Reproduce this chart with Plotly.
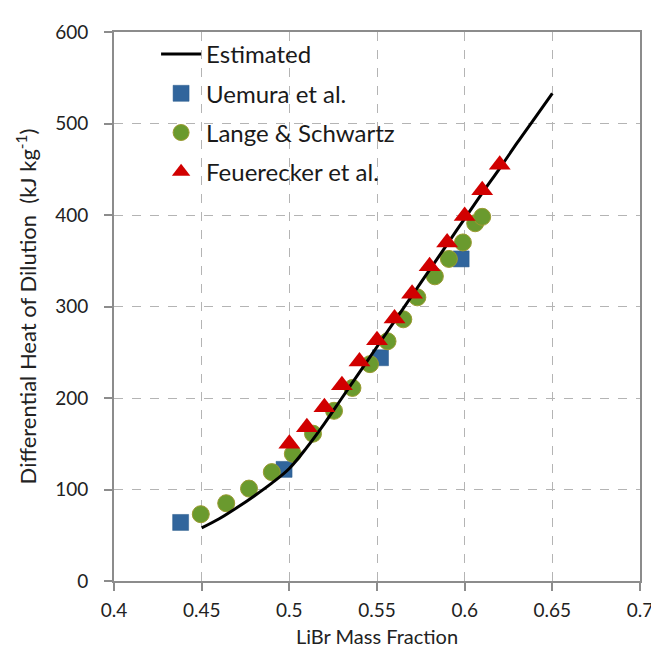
import plotly.graph_objects as go

# Estimated curve
est_x = [0.45, 0.46, 0.47, 0.48, 0.49, 0.50, 0.51, 0.52, 0.53, 0.54, 0.55,
         0.56, 0.57, 0.58, 0.59, 0.60, 0.61, 0.62, 0.63, 0.64, 0.65]
est_y = [58, 68, 80, 93, 107, 123, 146, 172, 200, 228, 256,
         284, 312, 340, 368, 396, 424, 451, 479, 506, 533]

# Uemura et al.
uem_x = [0.438, 0.497, 0.552, 0.598]
uem_y = [64, 122, 244, 352]

# Lange & Schwartz
lan_x = [0.4495, 0.464, 0.477, 0.490, 0.502, 0.5135, 0.5255, 0.536, 0.546,
         0.556, 0.565, 0.573, 0.583, 0.591, 0.599, 0.606, 0.610]
lan_y = [73, 85, 101, 119, 139, 161, 186, 211, 237,
         262, 286, 310, 333, 352, 370, 391, 398]

# Feuerecker et al.
feu_x = [0.50, 0.51, 0.52, 0.53, 0.54, 0.55, 0.56, 0.57, 0.58, 0.59, 0.60, 0.61, 0.62]
feu_y = [150, 168, 190, 214, 240, 263, 287, 314, 344, 370, 399, 427, 455]

x_ticks = [0.4, 0.45, 0.5, 0.55, 0.6, 0.65, 0.7]
x_ticklabels = ["0.4", "0.45", "0.5", "0.55", "0.6", "0.65", "0.7"]
y_ticks = [0, 100, 200, 300, 400, 500, 600]

FONT = "Lato, 'Open Sans', sans-serif"

fig = go.Figure()

fig.add_trace(go.Scatter(
    x=uem_x, y=uem_y, mode="markers", name="Uemura et al.",
    legendrank=2, legendgroup="b",
    marker=dict(symbol="square", size=16, color="#31659c",
                line=dict(width=0.5, color="#2a5a8a"))))

fig.add_trace(go.Scatter(
    x=lan_x, y=lan_y, mode="markers", name="Lange & Schwartz",
    legendrank=3, legendgroup="c",
    marker=dict(symbol="circle", size=17, color="#6a9a2e",
                line=dict(width=1, color="#9a9a30"))))

fig.add_trace(go.Scatter(
    x=est_x, y=est_y, mode="lines", name="Estimated",
    legendrank=1, legendgroup="a",
    line=dict(color="black", width=3, shape="spline")))

fig.add_trace(go.Scatter(
    x=feu_x, y=feu_y, mode="markers", name="Feuerecker et al.",
    legendrank=4, legendgroup="d",
    marker=dict(symbol="triangle-up", size=19, color="#d10000",
                line=dict(width=0))))

axis_common = dict(
    showline=True, linecolor="#8c8c8c", linewidth=2, mirror=True,
    showgrid=True, gridcolor="#b4b4b4", griddash="dash", gridwidth=1,
    ticks="outside", ticklen=8, tickcolor="#8c8c8c", tickwidth=1.5,
    zeroline=False,
    tickfont=dict(family=FONT, size=19, color="#222222"),
)

fig.update_xaxes(
    range=[0.4, 0.7], tickvals=x_ticks, ticktext=x_ticklabels,
    ticklabelstandoff=3,
    title=dict(text="LiBr Mass Fraction", font=dict(family=FONT, size=20, color="#222222"),
               standoff=10),
    **axis_common)
fig.update_yaxes(
    range=[0, 600], tickvals=y_ticks,
    ticklabelstandoff=12,
    title=dict(text="Differential Heat of Dilution  (kJ kg<sup>-1</sup>)",
               font=dict(family=FONT, size=22, color="#222222"), standoff=12),
    **axis_common)

fig.update_layout(
    width=659, height=655,
    margin=dict(l=106, r=27, t=19, b=82),
    plot_bgcolor="white", paper_bgcolor="white",
    legend=dict(x=0.08, y=1.0, xanchor="left", yanchor="top",
                bgcolor="rgba(255,255,255,0)", traceorder="grouped",
                tracegroupgap=5, itemwidth=40,
                font=dict(family=FONT, size=24, color="#1a1a1a")),
)

fig.write_html("out.html")
